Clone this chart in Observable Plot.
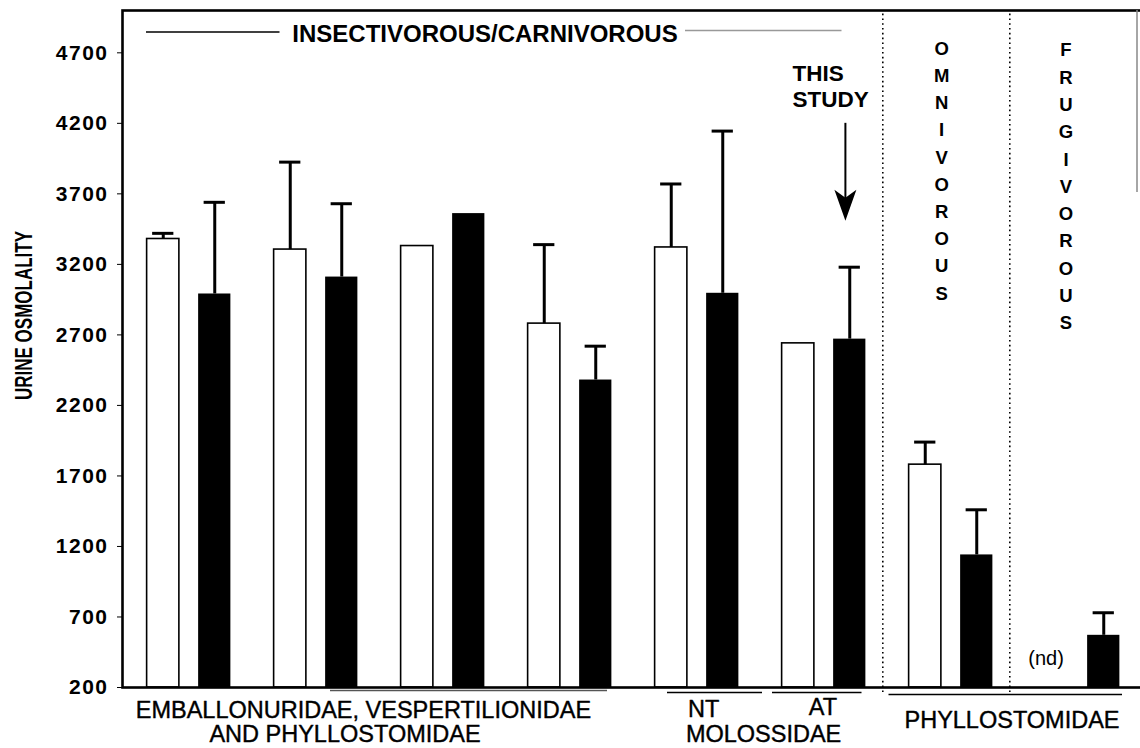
<!DOCTYPE html>
<html><head><meta charset="utf-8">
<script src="https://cdn.jsdelivr.net/npm/d3@7"></script>
<script src="https://cdn.jsdelivr.net/npm/@observablehq/plot@0.6"></script>
<style>
html,body{margin:0;padding:0;background:#fff;overflow:hidden;}
#chart svg{max-width:none !important;}
#chart svg [aria-label^="y-axis"] text{font-size:21px;letter-spacing:1.5px;font-weight:bold;}
</style></head><body><div id="chart"></div>
<script>
// ---- data ----
const groups = ["EVP1","EVP2","EVP3","EVP4","NT","AT","OMNI","FRUG"];
const openMean   = [3380, 3305, 3330, 2780, 3320, 2640, 1780, null];
const openSD     = [40,   620,  null, 560,  450,  null, 160,  null];
const filledMean = [2990, 3110, 3560, 2380, 2995, 2670, 1140, 570];
const filledSD   = [650,  520,  null, 240,  1150, 510,  320,  160];
const yTicks = [200, 700, 1200, 1700, 2200, 2700, 3200, 3700, 4200, 4700];
const yMax = 5000;
const headerText = "INSECTIVOROUS/CARNIVOROUS";
const omniWord = "OMNIVOROUS";
const frugWord = "FRUGIVOROUS";
const studyText = "THIS\nSTUDY";
const studyArrow = {g: "AT", top: 4200, tip: 3510};
const ndText = "(nd)";
const yTitle = "URINE OSMOLALITY";
const familyLabels = ["EMBALLONURIDAE, VESPERTILIONIDAE", "AND PHYLLOSTOMIDAE", "NT", "AT", "MOLOSSIDAE", "PHYLLOSTOMIDAE"];
const familyLabelGroups = ["EVP2", "EVP2", "NT", "AT", "NT", "OMNI"];

// ---- layout ----
const W = 1144, H = 748, ML = 122, MT = 10, MB = 61;
const bw = (W - ML) / groups.length;
const barW = 33, off = 25.75;
const barInset = (bw - barW) / 2, capInset = (bw - 22) / 2;
const base = yTicks[0];
const rows = groups.map((g, i) => ({g, om: openMean[i], os: openSD[i], fm: filledMean[i], fs: filledSD[i]}));
const openRows = rows.filter(d => d.om != null);
const openErr = rows.filter(d => d.os != null);
const fillErr = rows.filter(d => d.fs != null);
const FONT = "Liberation Sans, Arial, Helvetica, sans-serif";
const at = g => () => g;
const arrowHead = {draw(ctx) { ctx.moveTo(0, 0); ctx.lineTo(-11, -31); ctx.lineTo(0, -23); ctx.lineTo(11, -31); ctx.closePath(); }};
// label offsets (pixels) for the family labels below the axis
const labelOffsets = [[47.4, 23], [29, 47], [6.6, 22], [-1, 20], [66.6, 47], [61, 33]];

const familyMarks = familyLabels.map((t, i) => Plot.text([t], {
  x: at(familyLabelGroups[i]), frameAnchor: "bottom", dx: labelOffsets[i][0], dy: labelOffsets[i][1],
  lineAnchor: "middle", textAnchor: "middle", fontSize: 23.5, fontWeight: "normal",
  stroke: "black", strokeWidth: 0.4, fill: "black"
}));

const chart = Plot.plot({
  width: W, height: H,
  marginLeft: ML, marginRight: 0, marginTop: MT, marginBottom: MB,
  style: {fontFamily: FONT, fontSize: "21px", fontWeight: "bold", background: "white", color: "black"},
  x: {type: "band", domain: groups, padding: 0, axis: null},
  y: {domain: [base, yMax], ticks: yTicks, tickFormat: d => String(d), tickSize: 5, tickPadding: 9, label: null},
  marks: [
    // separators
    Plot.ruleX(["OMNI", "FRUG"], {x: d => d, y1: base, y2: yMax, insetTop: 5, dx: -68.2, stroke: "black", strokeWidth: 1.6, strokeDasharray: "1.6,3.2"}),
    // bars
    Plot.barY(openRows, {x: "g", y1: base, y2: "om", dx: -off, insetLeft: barInset, insetRight: barInset, fill: "white", stroke: "black", strokeWidth: 1.6}),
    Plot.barY(rows, {x: "g", y1: base, y2: "fm", dx: off, insetLeft: barInset, insetRight: barInset, fill: "black"}),
    // error bars
    Plot.ruleX(openErr, {x: "g", y1: "om", y2: d => d.om + d.os, dx: -off, strokeWidth: 3}),
    Plot.tickY(openErr, {x: "g", y: d => d.om + d.os, dx: -off, insetLeft: capInset, insetRight: capInset, strokeWidth: 3}),
    Plot.ruleX(fillErr, {x: "g", y1: "fm", y2: d => d.fm + d.fs, dx: off, strokeWidth: 3}),
    Plot.tickY(fillErr, {x: "g", y: d => d.fm + d.fs, dx: off, insetLeft: capInset, insetRight: capInset, strokeWidth: 3}),
    // frame
    Plot.frame({stroke: "black", strokeWidth: 2.6}),
    Plot.ruleX([0], {x: at("FRUG"), y1: 3710, y2: yMax, dx: 59, stroke: "#888", strokeWidth: 1.5}),
    // header
    Plot.ruleY([yMax], {x1: at("EVP1"), x2: at("EVP2"), insetLeft: 21, insetRight: 99.5, dy: 21.5, stroke: "black", strokeWidth: 1.5}),
    Plot.ruleY([yMax], {x1: at("NT"), x2: at("AT"), insetLeft: 52, insetRight: 45.5, dy: 20, stroke: "#999", strokeWidth: 1.5}),
    Plot.text([headerText], {x: at("EVP3"), frameAnchor: "top", dy: 24, dx: 42, lineAnchor: "middle", fontSize: 24, fontWeight: "bold"}),
    // diet words
    Plot.text([omniWord.split("").join("\n")], {x: at("OMNI"), frameAnchor: "top", dy: 25, dx: -9.4, lineAnchor: "top", lineHeight: 1.47, fontSize: 18.5, fontWeight: "bold"}),
    Plot.text([frugWord.split("").join("\n")], {x: at("FRUG"), frameAnchor: "top", dy: 26.5, dx: -12, lineAnchor: "top", lineHeight: 1.475, fontSize: 18.5, fontWeight: "bold"}),
    // this study
    Plot.text([studyText], {x: at(studyArrow.g), frameAnchor: "top", dy: 53, dx: -31.6, textAnchor: "start", lineAnchor: "top", lineHeight: 1.12, fontSize: 22.5, fontWeight: "bold"}),
    Plot.ruleX([studyArrow], {x: "g", y1: d => d.tip + 140, y2: "top", dx: 21.4, strokeWidth: 2}),
    Plot.dot([studyArrow], {x: "g", y: "tip", dx: 21.4, symbol: arrowHead, fill: "black", stroke: "none"}),
    // (nd)
    Plot.text([ndText], {x: at("FRUG"), frameAnchor: "bottom", dy: -29, dx: -32, lineAnchor: "middle", fontSize: 20, fontWeight: "normal"}),
    // group underlines
    Plot.ruleY([base], {x1: at("EVP2"), x2: at("EVP4"), insetLeft: 78, insetRight: 26, dy: 3, stroke: "#555", strokeWidth: 1.6}),
    Plot.ruleY([base], {x1: at("NT"), x2: at("NT"), insetLeft: 34, insetRight: -2, dy: 5, stroke: "black", strokeWidth: 1.4}),
    Plot.ruleY([base], {x1: at("AT"), x2: at("AT"), insetLeft: 12, insetRight: 25.5, dy: 5, stroke: "black", strokeWidth: 1.4}),
    Plot.ruleY([base], {x1: at("OMNI"), x2: at("FRUG"), insetLeft: 1.5, insetRight: 19, dy: 7, stroke: "black", strokeWidth: 1.4}),
    // bottom labels
    ...familyMarks,
    // y title
    Plot.text([yTitle], {frameAnchor: "left", rotate: -90, dx: -98.5, dy: -33.5, textAnchor: "middle", lineAnchor: "middle", fontSize: 17, fontWeight: "bold"})
  ]
});
// stretch the y title glyphs (the original scan has tall, heavy lettering)
for (const t of chart.querySelectorAll("text")) {
  if (t.textContent === yTitle) {
    const tr = t.getAttribute("transform");
    if (tr) t.setAttribute("transform", tr + " scale(1,1.45)");
  }
}
document.getElementById("chart").appendChild(chart);
</script></body></html>
